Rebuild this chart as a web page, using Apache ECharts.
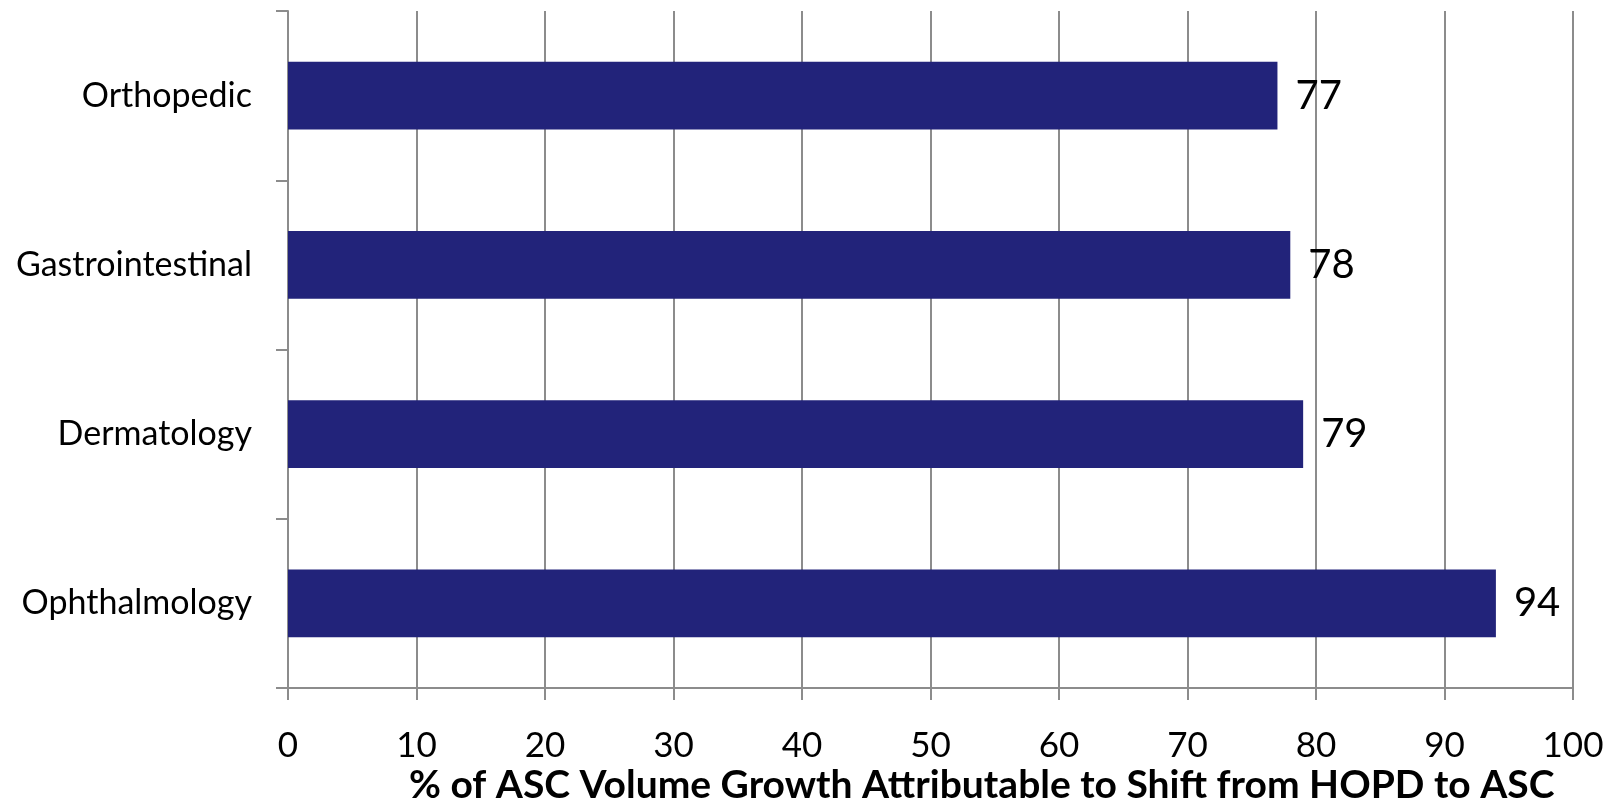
<!DOCTYPE html>
<html>
<head>
<meta charset="utf-8">
<script src="https://cdn.jsdelivr.net/npm/echarts@6/dist/echarts.min.js"></script>
<style>
    html, body { margin: 0; padding: 0; background: #fff; }
    #chart { width: 1612px; height: 803px; }
</style>
</head>
<body>
<div id="chart"></div>
<script>
// specialties, top to bottom
var categories = ['Orthopedic', 'Gastrointestinal', 'Dermatology', 'Ophthalmology'];
var values = [77, 78, 79, 94];
var xTicks = [0, 10, 20, 30, 40, 50, 60, 70, 80, 90, 100];

var gridColor = '#8c8c8c';
var myChart = echarts.init(document.getElementById('chart'));

var option = {
    animation: false,
    title: {
        text: '% of ASC Volume Growth Attributable to Shift from HOPD to ASC',
        left: 404,
        top: 761,
        textStyle: {
            fontFamily: 'Lato',
            fontWeight: 'bold',
            fontSize: 39,
            color: '#000'
        }
    },
    grid: {
        left: 288,
        right: 39,
        top: 11,
        bottom: 115
    },
    xAxis: {
        type: 'value',
        min: xTicks[0],
        max: xTicks[xTicks.length - 1],
        interval: 10,
        axisLine: { show: true, lineStyle: { color: gridColor, width: 2 } },
        axisTick: { show: true, length: 12, lineStyle: { color: gridColor, width: 2 } },
        splitLine: { show: true, lineStyle: { color: gridColor, width: 2 } },
        axisLabel: {
            margin: 40,
            fontFamily: 'Lato',
            fontSize: 35,
            color: '#000'
        }
    },
    yAxis: {
        type: 'category',
        inverse: true,
        data: categories,
        axisLine: { show: true, lineStyle: { color: gridColor, width: 2 } },
        axisTick: { show: true, length: 12, lineStyle: { color: gridColor, width: 2 } },
        axisLabel: {
            margin: 36,
            fontFamily: 'Lato',
            fontSize: 34,
            color: '#000'
        }
    },
    series: [
        {
            name: 'Share',
            type: 'bar',
            data: values,
            barWidth: '40%',
            itemStyle: { color: '#22237a' },
            label: {
                show: true,
                position: 'right',
                distance: 18,
                fontFamily: 'Lato',
                fontSize: 40,
                color: '#000'
            }
        }
    ]
};

myChart.setOption(option);
</script>
</body>
</html>
